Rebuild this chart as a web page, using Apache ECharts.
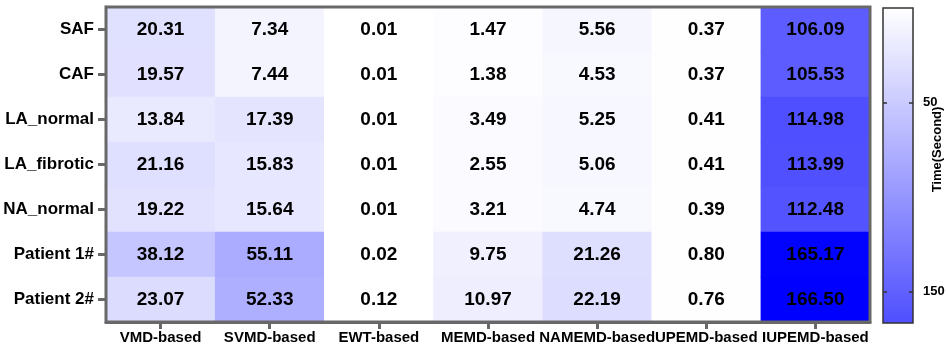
<!DOCTYPE html>
<html><head><meta charset="utf-8">
<script src="https://cdn.jsdelivr.net/npm/echarts@6/dist/echarts.min.js"></script>
<style>html,body{margin:0;padding:0;background:#fff}#c{width:948px;height:351px}</style>
</head><body><div id="c"></div>
<script>
const methods = ['VMD-based','SVMD-based','EWT-based','MEMD-based','NAMEMD-based','UPEMD-based','IUPEMD-based'];
const signals = ['SAF','CAF','LA_normal','LA_fibrotic','NA_normal','Patient 1#','Patient 2#'];
const vmd    = [20.31,19.57,13.84,21.16,19.22,38.12,23.07];
const svmd   = [7.34,7.44,17.39,15.83,15.64,55.11,52.33];
const ewt    = [0.01,0.01,0.01,0.01,0.01,0.02,0.12];
const memd   = [1.47,1.38,3.49,2.55,3.21,9.75,10.97];
const namemd = [5.56,4.53,5.25,5.06,4.74,21.26,22.19];
const upemd  = [0.37,0.37,0.41,0.41,0.39,0.80,0.76];
const iupemd = [106.09,105.53,114.98,113.99,112.48,165.17,166.50];
const colorTicks = [50,150];
const colorMin = 0, colorMax = 166.5;

const columns = [vmd, svmd, ewt, memd, namemd, upemd, iupemd];
const cells = [];
columns.forEach((col, xi) => col.forEach((v, yi) => cells.push([xi, yi, v])));

const FONT = 'Liberation Sans, Arial, sans-serif';
const chart = echarts.init(document.getElementById('c'), null, {renderer:'canvas'});
chart.setOption({
  animation: false,
  backgroundColor: '#fff',
  grid: [
    {left:106, right:78, top:7, bottom:29, show:true, borderColor:'#686868', borderWidth:3, backgroundColor:'transparent', z:5, containLabel:false, outerBoundsMode:'none'},
    {left:883, width:30, top:8, height:315, show:true, borderColor:'#333', borderWidth:1.5, containLabel:false, outerBoundsMode:'none', z:5}
  ],
  xAxis: [
    {type:'category', data:methods, gridIndex:0, position:'bottom',
     axisLine:{show:true, lineStyle:{color:'#686868', width:3}},
     axisTick:{show:true, alignWithLabel:true, length:7, lineStyle:{color:'#686868', width:3}},
     axisLabel:{color:'#000', fontWeight:'bold', fontSize:15, fontFamily:FONT, margin:8, interval:0, hideOverlap:false},
     splitLine:{show:false}, splitArea:{show:false}},
    {type:'category', data:['c'], gridIndex:1, show:false}
  ],
  yAxis: [
    {type:'category', data:signals, gridIndex:0, inverse:true,
     axisLine:{show:true, lineStyle:{color:'#686868', width:3}},
     axisTick:{show:true, alignWithLabel:true, length:8, lineStyle:{color:'#686868', width:3}},
     axisLabel:{color:'#000', fontWeight:'bold', fontSize:17, fontFamily:FONT, margin:12, interval:0},
     splitLine:{show:false}, splitArea:{show:false}},
    {type:'value', gridIndex:1, min:colorMin, max:colorMax, inverse:true, position:'right', z:10,
     axisLine:{show:false}, splitLine:{show:false},
     axisTick:{show:true, inside:true, length:4, customValues:colorTicks, lineStyle:{color:'#333', width:1.5}},
     axisLabel:{show:true, customValues:colorTicks, color:'#000', fontWeight:'bold', fontSize:13, fontFamily:FONT, margin:10},
     name:'Time(Second)', nameLocation:'middle', nameGap:18, nameMoveOverlap:false,
     nameTextStyle:{color:'#000', fontWeight:'bold', fontSize:13, fontFamily:FONT, padding:[0,0,0,32]}},
    {type:'value', gridIndex:1, min:colorMin, max:colorMax, inverse:true, position:'left', z:10,
     axisLine:{show:false}, splitLine:{show:false},
     axisTick:{show:true, inside:true, length:4, customValues:colorTicks, lineStyle:{color:'#333', width:1.5}},
     axisLabel:{show:false}}
  ],
  visualMap: {
    show:false, type:'continuous', seriesIndex:0, dimension:2,
    min:colorMin, max:colorMax, inRange:{color:['#ffffff','#0000ff']}
  },
  series: [
    {type:'heatmap', xAxisIndex:0, yAxisIndex:0, data:cells,
     label:{show:true, color:'#000', fontWeight:'bold', fontSize:19, fontFamily:FONT,
            formatter: p => p.value[2].toFixed(2)},
     itemStyle:{borderWidth:0}},
    {type:'bar', xAxisIndex:1, yAxisIndex:1, data:[colorMax], barWidth:'100%', silent:true, z:1,
     itemStyle:{color:new echarts.graphic.LinearGradient(0,0,0,1,[{offset:0,color:'#ffffff'},{offset:1,color:'#4f4fff'}])}}
  ]
});
</script></body></html>
